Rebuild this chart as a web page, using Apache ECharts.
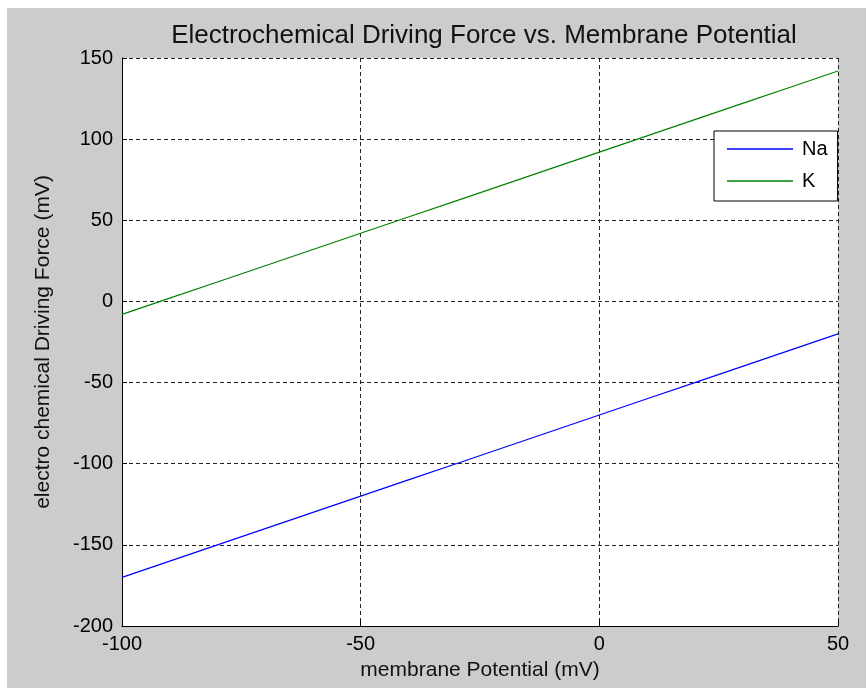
<!DOCTYPE html>
<html><head><meta charset="utf-8">
<script src="https://cdn.jsdelivr.net/npm/echarts@6/dist/echarts.min.js"></script>
<style>html,body{margin:0;padding:0;background:#fff}#c{width:866px;height:688px}</style>
</head><body><div id="c"></div>
<script>
const titleText = 'Electrochemical Driving Force vs. Membrane Potential';
const xName = 'membrane Potential (mV)';
const yName = 'electro chemical Driving Force (mV)';
const potential = [-100, -90, -80, -70, -60, -50, -40, -30, -20, -10, 0, 10, 20, 30, 40, 50];
const naForce = [-170, -160, -150, -140, -130, -120, -110, -100, -90, -80, -70, -60, -50, -40, -30, -20];
const kForce = [-8, 2, 12, 22, 32, 42, 52, 62, 72, 82, 92, 102, 112, 122, 132, 142];
const seriesNames = ['Na', 'K'];
const seriesColors = ['#0000ff', '#008000'];

const FONT = 'Liberation Sans, Arial, sans-serif';
const chart = echarts.init(document.getElementById('c'), null, {renderer: 'canvas'});
const dash = {color: '#222', type: [4, 3], width: 1};
chart.setOption({
  animation: false,
  backgroundColor: '#fff',
  graphic: [{type: 'rect', z: -10, shape: {x: 7, y: 8, width: 866, height: 688}, style: {fill: '#cccccc'}}],
  title: {text: titleText, left: 479, textAlign: 'center', top: 18,
    textStyle: {fontFamily: FONT, fontSize: 26, fontWeight: 'normal', color: '#111'}},
  legend: {
    orient: 'vertical', left: 714, top: 131,
    data: seriesNames,
    backgroundColor: '#fff', borderColor: '#000', borderWidth: 1,
    padding: [8, 10, 10, 13], itemGap: 12,
    itemWidth: 66, itemHeight: 20, icon: 'path://M0,0 L66,0 L66,1.5 L0,1.5 Z',
    textStyle: {fontFamily: FONT, fontSize: 20, color: '#000', padding: [0, 0, 0, 4]}
  },
  grid: {left: 122, top: 58, width: 716, height: 568, show: true, backgroundColor: '#fff', borderWidth: 0},
  xAxis: {
    type: 'value', min: -100, max: 50, interval: 50,
    name: xName, nameLocation: 'middle', nameGap: 34,
    nameTextStyle: {fontFamily: FONT, fontSize: 21, color: '#111'},
    axisLine: {show: true, onZero: false, lineStyle: {color: '#000', width: 1}},
    axisTick: {show: true, inside: true, length: 5, lineStyle: {color: '#000'}},
    axisLabel: {fontFamily: FONT, fontSize: 20, color: '#000', margin: 8},
    splitLine: {show: true, lineStyle: dash}
  },
  yAxis: {
    type: 'value', min: -200, max: 150, interval: 50,
    name: yName, nameLocation: 'middle', nameGap: 68, nameRotate: 90,
    nameTextStyle: {fontFamily: FONT, fontSize: 21, color: '#111'},
    axisLine: {show: true, onZero: false, lineStyle: {color: '#000', width: 1}},
    axisTick: {show: true, inside: true, length: 5, lineStyle: {color: '#000'}},
    axisLabel: {fontFamily: FONT, fontSize: 20, color: '#000', margin: 9},
    splitLine: {show: true, lineStyle: dash}
  },
  series: seriesNames.map((n, i) => ({
    name: n, type: 'line', showSymbol: false, symbol: 'none',
    data: potential.map((x, j) => [x, (i === 0 ? naForce : kForce)[j]]),
    lineStyle: {color: seriesColors[i], width: 1.2},
    itemStyle: {color: seriesColors[i]}
  }))
});
</script></body></html>
